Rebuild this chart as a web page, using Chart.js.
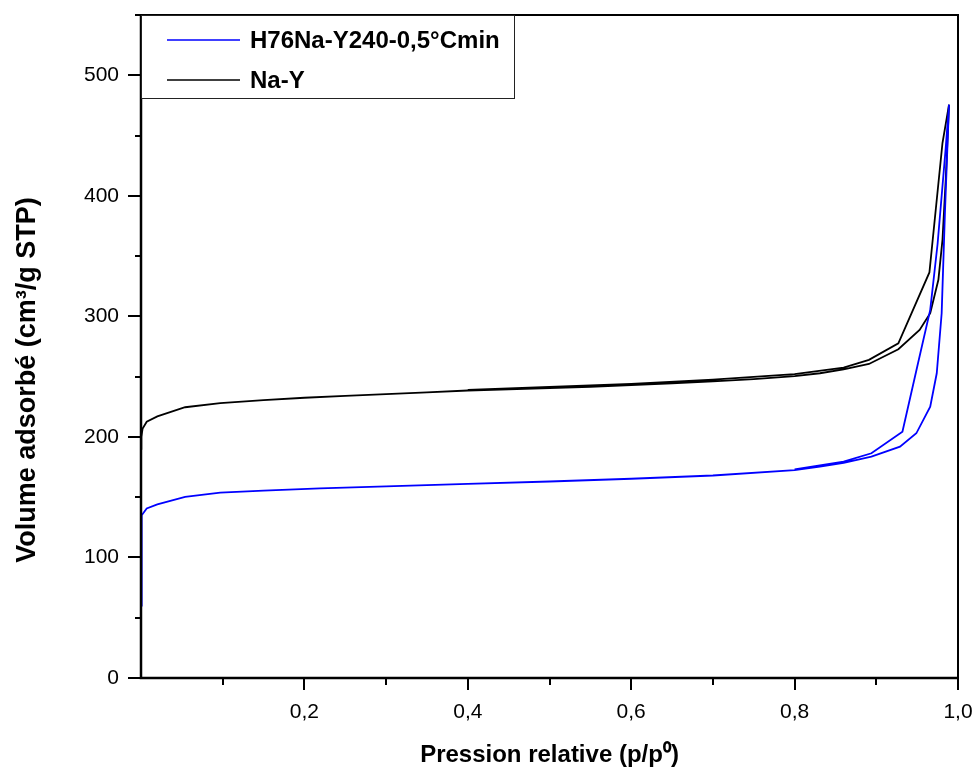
<!DOCTYPE html>
<html>
<head>
<meta charset="utf-8">
<script src="https://cdn.jsdelivr.net/npm/chart.js@4"></script>
<style>
html,body{margin:0;padding:0;background:#fff;}
#wrap{width:977px;height:773px;}
</style>
</head>
<body>
<div id="wrap"><canvas id="c" width="977" height="773"></canvas></div>
<script>
// ---- data (adsorption branch then desorption branch, in measurement order) ----
const seriesLabels = ["H76Na-Y240-0,5°Cmin", "Na-Y"];
const seriesColors = ["#0000ff", "#000000"];

const h76Pressure = [0.0001,0.0005,0.0012,0.007,0.02,0.054,0.097,0.15,0.219,0.3,0.4,0.5,0.6,0.7,0.8,0.831,0.86,0.894,0.929,0.949,0.966,0.974,0.980,0.984,0.989,
                     0.985,0.975,0.966,0.95,0.932,0.894,0.86,0.8];
const h76Volume   = [60,110,135,140.7,144,150.3,153.7,155.5,157.3,159,161,163,165.3,168,172.5,175.3,178.5,183.6,191.9,203,225,252.8,302.6,385.7,475.6,
                     440,360,305.4,258,204.3,186.4,179.5,173];

const naYPressure = [0.0001,0.0004,0.002,0.007,0.02,0.054,0.097,0.15,0.2,0.25,0.3,0.35,0.4,0.45,0.5,0.55,0.6,0.65,0.7,0.75,0.8,0.831,0.86,0.891,0.927,0.953,0.966,0.976,0.981,0.985,0.989,
                     0.981,0.965,0.927,0.891,0.86,0.8,0.7,0.6,0.5,0.4];
const naYVolume   = [190,200,207,212.6,217,224.6,228,230.5,232.5,234,235.5,237,238.5,239.5,240.5,241.5,243,244.5,246,248,250.5,252.8,256,260.5,272.7,288.8,302.6,330.3,363.5,413.4,475.6,
                     443.8,336.4,277.7,263.9,257.5,252,247.5,244,241.5,239];

const xTickLabels = {0.2:"0,2",0.4:"0,4",0.6:"0,6",0.8:"0,8",1.0:"1,0"};
const yTickLabels = {0:"0",100:"100",200:"200",300:"300",400:"400",500:"500"};
const xTitle = 'Pression relative (p/p\u2070)';
const yTitle = 'Volume adsorbé (cm\u00b3/g STP)';

function pts(xs, ys){ return xs.map((x,i)=>({x:x,y:ys[i]})); }

const FONT = "Liberation Sans, Arial, sans-serif";

const framePlugin = {
  id:'frame',
  afterDraw(chart){
    const ctx = chart.ctx, a = chart.chartArea;
    const xs = chart.scales.x, ys = chart.scales.y;
    ctx.save();
    ctx.strokeStyle = '#000';
    // ticks
    ctx.lineWidth = 2;
    for (let v = 0; v <= 550.001; v += 50) {
      const y = Math.round(ys.getPixelForValue(v));
      const len = (Math.round(v) % 100 === 0) ? 13 : 6;
      ctx.beginPath(); ctx.moveTo(a.left - len, y); ctx.lineTo(a.left, y); ctx.stroke();
    }
    for (let i = 1; i <= 10; i++) {
      const x = Math.round(xs.getPixelForValue(i/10));
      const len = (i % 2 === 0) ? 12 : 7;
      ctx.beginPath(); ctx.moveTo(x, a.bottom); ctx.lineTo(x, a.bottom + len); ctx.stroke();
    }
    // frame
    ctx.lineWidth = 2.5;
    ctx.beginPath();
    ctx.moveTo(a.left, a.top); ctx.lineTo(a.left, a.bottom); ctx.lineTo(a.right, a.bottom);
    ctx.stroke();
    ctx.lineWidth = 2;
    ctx.beginPath();
    ctx.moveTo(a.left, a.top); ctx.lineTo(a.right, a.top); ctx.lineTo(a.right, a.bottom);
    ctx.stroke();
    // y axis title
    ctx.save();
    ctx.translate(28, 380);
    ctx.rotate(-Math.PI/2);
    ctx.font = "bold 27px " + FONT;
    ctx.fillStyle = '#000';
    ctx.textAlign = 'center';
    ctx.textBaseline = 'middle';
    ctx.fillText(yTitle, 0, 0);
    ctx.restore();
    // legend box
    const bx = a.left, by = a.top, bw = 373, bh = 83;
    ctx.fillStyle = '#fff';
    ctx.fillRect(bx, by, bw, bh);
    ctx.lineWidth = 1;
    ctx.strokeStyle = '#222';
    ctx.strokeRect(bx + 0.5, by + 0.5, bw, bh);
    ctx.font = "bold 24px " + FONT;
    ctx.textBaseline = 'middle';
    ctx.textAlign = 'left';
    chart.data.datasets.forEach((ds, i) => {
      const yy = by + 25 + i * 40;
      ctx.strokeStyle = ds.borderColor;
      ctx.lineWidth = 1.6;
      ctx.beginPath(); ctx.moveTo(bx + 26, yy); ctx.lineTo(bx + 99, yy); ctx.stroke();
      ctx.fillStyle = '#000';
      ctx.fillText(ds.label, bx + 109, yy + 1);
    });
    ctx.restore();
  }
};

function noPad(s){ s.paddingTop = 0; s.paddingBottom = 0; s.paddingLeft = 0; s.paddingRight = 0; }

new Chart(document.getElementById('c'), {
  type: 'scatter',
  data: {
    datasets: [
      {label: seriesLabels[0], data: pts(h76Pressure, h76Volume), borderColor: seriesColors[0], backgroundColor: seriesColors[0], showLine: true, pointRadius: 0, borderWidth: 1.8, tension: 0},
      {label: seriesLabels[1], data: pts(naYPressure, naYVolume), borderColor: seriesColors[1], backgroundColor: seriesColors[1], showLine: true, pointRadius: 0, borderWidth: 1.8, tension: 0}
    ]
  },
  options: {
    responsive: false,
    animation: false,
    layout: {padding: {left: 0, right: 19, top: 15, bottom: 0}},
    plugins: {legend: {display: false}, tooltip: {enabled: false}},
    scales: {
      x: {
        type: 'linear', min: 0, max: 1.0,
        border: {display: false},
        grid: {display: false, drawTicks: false},
        afterBuildTicks(s){ s.ticks = [0.2,0.4,0.6,0.8,1.0].map(v=>({value:v})); },
        afterFit(s){ s.height = 773 - 678; noPad(s); },
        ticks: {
          padding: 22, maxRotation: 0, autoSkip: false, color: '#000',
          font: {family: FONT, size: 21},
          callback: (v) => xTickLabels[Math.round(v*10)/10] ?? ''
        },
        title: {display: true, text: xTitle, color: '#000',
          font: {family: FONT, size: 24, weight: 'bold'},
          padding: {top: 0, bottom: 3}}
      },
      y: {
        type: 'linear', min: 0, max: 550,
        border: {display: false},
        grid: {display: false, drawTicks: false},
        afterBuildTicks(s){ s.ticks = [0,100,200,300,400,500].map(v=>({value:v})); },
        afterFit(s){ s.width = 141; noPad(s); },
        ticks: {
          padding: 22, color: '#000',
          font: {family: FONT, size: 21},
          callback: (v) => yTickLabels[v] ?? ''
        },
        title: {display: false, text: yTitle}
      }
    }
  },
  plugins: [framePlugin]
});
</script>
</body>
</html>
